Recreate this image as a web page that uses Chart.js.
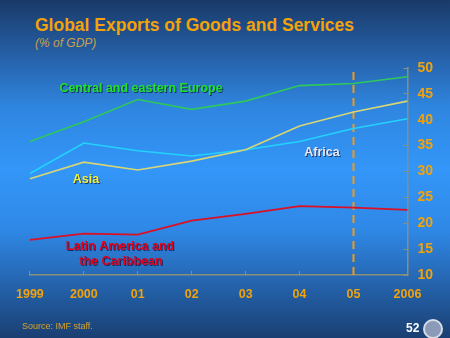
<!DOCTYPE html>
<html>
<head>
<meta charset="utf-8">
<script src="https://cdn.jsdelivr.net/npm/chart.js@4"></script>
<style>
  html, body { margin: 0; padding: 0; }
  body {
    width: 450px; height: 338px; overflow: hidden; position: relative;
    font-family: "Liberation Sans", Arial, sans-serif;
    background: linear-gradient(to bottom, #193a68 0%, #245a9e 14%, #2f86e0 32%, #3396f8 50%, #2f88e6 68%, #235fa6 86%, #1a3f72 100%);
  }
  #chartBox { position: absolute; left: 0; top: 0; width: 450px; height: 338px; }
  .title { position: absolute; left: 35px; top: 15px; color: #f2a20a; font-weight: bold; font-size: 17.5px; }
  .sub { position: absolute; left: 35px; top: 36px; color: #c9a248; font-style: italic; font-size: 12px; }
  .source { position: absolute; left: 22px; top: 321px; color: #d9a22a; font-size: 9px; }
  .page { position: absolute; left: 406px; top: 321px; color: #ffffff; font-weight: bold; font-size: 12px; }
  .seal { position: absolute; left: 423px; top: 319px; width: 16px; height: 16px; border-radius: 50%; border: 2px solid #d8dce6; background: #8a9ab8; }
</style>
</head>
<body>
<div class="title">Global Exports of Goods and Services</div>
<div class="sub">(% of GDP)</div>
<div id="chartBox"><canvas id="lineChart" width="450" height="338"></canvas></div>
<div class="source">Source: IMF staff.</div>
<div class="page">52</div>
<div class="seal"></div>
<script>
const years = ['1999', '2000', '01', '02', '03', '04', '05', '2006'];
const europe = [35.8, 39.6, 43.9, 42.0, 43.6, 46.6, 47.0, 48.3];
const asia = [28.6, 31.8, 30.3, 32.0, 34.2, 38.8, 41.5, 43.6];
const africa = [29.6, 35.5, 34.0, 33.0, 34.2, 35.8, 38.3, 40.2];
const latin = [16.8, 18.0, 17.8, 20.5, 21.8, 23.3, 23.0, 22.6];
const yTicks = [10, 15, 20, 25, 30, 35, 40, 45, 50];
const projectionYear = '05';

// text labels drawn next to the lines
const seriesLabels = [
  { text: 'Central and eastern Europe', x: 141, y: 89, color: '#22e02a' },
  { text: 'Africa', x: 322, y: 153, color: '#e6e8f2' },
  { text: 'Asia', x: 86, y: 180, color: '#f2f03c' },
  { text: 'Latin America and', x: 120, y: 247, color: '#e3001a' },
  { text: 'the Caribbean', x: 121, y: 262, color: '#e3001a' }
];

const labelPlugin = {
  id: 'seriesLabels',
  afterDatasetsDraw(chart) {
    const ctx = chart.ctx;
    ctx.save();
    ctx.font = 'bold 12.5px "Liberation Sans", Arial, sans-serif';
    ctx.textAlign = 'center';
    ctx.textBaseline = 'middle';
    ctx.shadowColor = 'rgba(0,0,40,0.6)';
    ctx.shadowOffsetX = 1;
    ctx.shadowOffsetY = 1;
    seriesLabels.forEach(l => {
      ctx.fillStyle = l.color;
      ctx.fillText(l.text, l.x, l.y);
    });
    ctx.restore();
  }
};

const ctx = document.getElementById('lineChart').getContext('2d');

new Chart(ctx, {
  type: 'line',
  data: {
    labels: years,
    datasets: [
      { data: europe, borderColor: '#2fc85c', borderWidth: 1.6, pointRadius: 0, tension: 0 },
      { data: asia, borderColor: '#d6d676', borderWidth: 1.6, pointRadius: 0, tension: 0 },
      { data: africa, borderColor: '#22d2ff', borderWidth: 1.6, pointRadius: 0, tension: 0 },
      { data: latin, borderColor: '#dc1024', borderWidth: 1.8, pointRadius: 0, tension: 0 },
      {
        data: [{ x: projectionYear, y: yTicks[0] }, { x: projectionYear, y: yTicks[yTicks.length - 1] }],
        borderColor: '#f59a10', borderWidth: 2, borderDash: [8, 5], pointRadius: 0
      }
    ]
  },
  options: {
    responsive: false,
    animation: false,
    layout: { padding: { left: 19, right: 3, top: 68, bottom: 20 } },
    plugins: { legend: { display: false }, tooltip: { enabled: false } },
    scales: {
      x: {
        type: 'category',
        offset: false,
        grid: { drawOnChartArea: false, color: '#8a8f7a', tickLength: -4 },
        border: { color: '#8a8f7a', width: 1.5 },
        ticks: { color: '#f2a20a', font: { weight: 'bold', size: 12.5, family: '"Liberation Sans", Arial' }, padding: 16, maxRotation: 0, autoSkip: false }
      },
      y: {
        position: 'right',
        min: 10,
        max: 50,
        afterBuildTicks: axis => { axis.ticks = yTicks.map(v => ({ value: v })); },
        grid: { drawOnChartArea: false, color: '#8a8f7a', tickLength: -4 },
        border: { color: '#8a8f7a', width: 1.5 },
        ticks: { color: '#f2a20a', font: { weight: 'bold', size: 14, family: '"Liberation Sans", Arial' }, padding: 14 }
      }
    }
  },
  plugins: [labelPlugin]
});
</script>
</body>
</html>
